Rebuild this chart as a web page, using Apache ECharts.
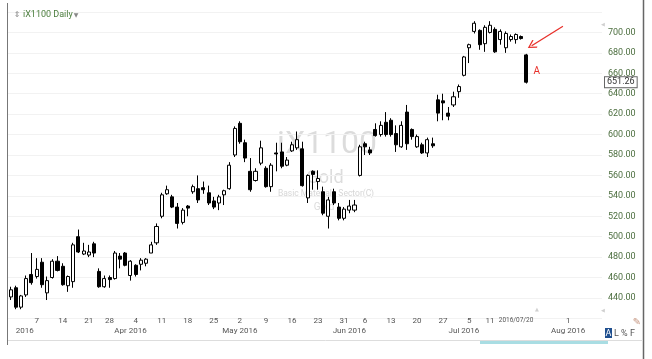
<!DOCTYPE html>
<html><head><meta charset="utf-8">
<script src="https://cdn.jsdelivr.net/npm/echarts@6/dist/echarts.min.js"></script>
<style>html,body{margin:0;padding:0;background:#fff}#c{width:652px;height:359px}</style>
</head><body><div id="c"></div>
<script>
// trading-day categories (incl. empty future days on the right)
const dates = [
'2016-02-29',
'2016-03-01','2016-03-02','2016-03-03','2016-03-04','2016-03-07','2016-03-08','2016-03-09','2016-03-10','2016-03-11',
'2016-03-14','2016-03-15','2016-03-16','2016-03-17','2016-03-18','2016-03-21','2016-03-22','2016-03-23','2016-03-24',
'2016-03-28','2016-03-29','2016-03-30','2016-03-31',
'2016-04-01','2016-04-04','2016-04-05','2016-04-06','2016-04-07','2016-04-08','2016-04-11','2016-04-12','2016-04-13',
'2016-04-14','2016-04-15','2016-04-18','2016-04-19','2016-04-20','2016-04-21','2016-04-22','2016-04-25','2016-04-26',
'2016-04-27','2016-04-28','2016-04-29',
'2016-05-02','2016-05-03','2016-05-04','2016-05-05','2016-05-06','2016-05-09','2016-05-10','2016-05-11','2016-05-12',
'2016-05-13','2016-05-16','2016-05-17','2016-05-18','2016-05-19','2016-05-20','2016-05-23','2016-05-24','2016-05-25',
'2016-05-26','2016-05-27','2016-05-31',
'2016-06-01','2016-06-02','2016-06-03','2016-06-06','2016-06-07','2016-06-08','2016-06-09','2016-06-10','2016-06-13',
'2016-06-14','2016-06-15','2016-06-16','2016-06-17','2016-06-20','2016-06-21','2016-06-22','2016-06-23','2016-06-24',
'2016-06-27','2016-06-28','2016-06-29','2016-06-30',
'2016-07-01','2016-07-05','2016-07-06','2016-07-07','2016-07-08','2016-07-11','2016-07-12','2016-07-13','2016-07-14',
'2016-07-15','2016-07-18','2016-07-19','2016-07-20','2016-07-21','2016-07-22','2016-07-25','2016-07-26','2016-07-27',
'2016-07-28','2016-07-29',
'2016-08-01','2016-08-02','2016-08-03','2016-08-04','2016-08-05','2016-08-08','2016-08-09'
];
const opens  = [441,450,431,443,463,461,475,445,460,476,471,452,456,500,483,482,493,466,451,460,459,481,484,462,472,473,474,484,494,520,
542,539,529,514,530,544,547,548,543,535,533,541,547,580,611,592,564,555,572,567,549,582,583,570,584,587,586,538,564,554,
544,520,544,529,518,526,526,560,591,585,605,600,612,614,601,588,622,605,588,590,582,591,634,633,621,629,642,658,685,701,
702,689,700,703,693,685,693,693,696,678];
const closes = [448,431,442,459,455,468,453,457,476,467,453,461,492,485,486,485,484,451,459,458,484,478,472,476,463,477,478,492,510,541,
546,529,513,526,528,549,536,546,533,529,539,545,570,606,593,577,546,564,587,549,570,581,569,575,590,595,550,560,561,557,
523,536,533,518,527,530,531,588,588,582,599,609,600,600,590,609,591,598,598,582,595,589,621,631,618,637,647,676,688,709,
688,705,707,681,701,699,696,698,694,651.26];
const lows   = [438,429,429,441,453,459,450,438,459,466,452,446,450,484,482,480,480,450,450,450,458,469,471,457,461,467,471,484,492,518,
541,528,508,512,520,542,533,542,531,527,526,531,546,578,591,573,544,554,570,548,544,564,567,569,583,585,549,533,546,546,
521,508,531,516,516,523,524,559,580,580,598,598,598,598,583,587,585,595,587,581,578,587,613,614,614,627,636,657,670,699,
683,681,699,680,688,680,691,689,693,650];
const highs  = [451,452,443,462,484,479,479,461,478,481,474,462,494,507,494,492,495,469,462,462,486,484,485,477,473,479,479,495,513,543,
550,541,533,528,531,551,560,554,550,539,541,546,573,608,613,595,577,567,594,569,572,592,592,578,593,603,593,561,565,565,
549,539,547,533,529,536,536,590,593,588,611,613,622,616,609,613,629,606,600,592,597,597,639,640,627,642,649,677,689,711,
703,707,711,705,703,701,698,699,697,679];
const lastClose = 651.26;

const dayTickDates = ['2016-03-07','2016-03-14','2016-03-21','2016-03-28','2016-04-04','2016-04-11','2016-04-18','2016-04-25',
  '2016-05-02','2016-05-09','2016-05-16','2016-05-23','2016-05-31','2016-06-06','2016-06-13','2016-06-20','2016-06-27',
  '2016-07-05','2016-07-11','2016-07-18','2016-08-01'];
const dayTickTexts = ['7','14','21','28','4','11','18','25','2','9','16','23','31','6','13','20','27','5','11','2016/07/20','1'];
const monthTickDates = ['2016-02-29','2016-03-01','2016-04-01','2016-05-02','2016-06-01','2016-07-01','2016-08-01'];
const monthTickTexts = ['2016','2016','Apr 2016','May 2016','Jun 2016','Jul 2016','Aug 2016'];

const yMin = 420, yMax = 720, yStep = 20;
const arrowFrom = ['2016-07-29', 706];
const arrowTo = ['2016-07-21', 687];
const noteA = ['2016-07-22', 662];

const FONT = 'Roboto, "Open Sans", sans-serif';
const candles = dates.map((d, i) => i < opens.length ? [opens[i], closes[i], lows[i], highs[i]] : '-');
const monthData = dates.map((d, i) => i <= 1 ? {value: d, textStyle: {align: 'left'}} : d);

const chart = echarts.init(document.getElementById('c'), null, {renderer: 'canvas'});
chart.setOption({
  animation: false,
  backgroundColor: '#fff',
  grid: {left: 8, right: 50, top: 12, height: 306.4, containLabel: false},
  xAxis: [{
    type: 'category', data: dates, boundaryGap: true,
    axisLine: {show: false}, axisTick: {show: false}, splitLine: {show: false},
    axisLabel: {
      margin: -1.5, fontSize: 8, color: '#555', fontFamily: FONT,
      interval: (idx, v) => dayTickDates.indexOf(v) >= 0,
      formatter: (v) => {
        const k = dayTickDates.indexOf(v);
        const t = k >= 0 ? dayTickTexts[k] : '';
        return t.indexOf('/') >= 0 ? '{s|' + t + '}' : t;
      },
      rich: {s: {fontSize: 6.5, color: '#555', fontFamily: FONT}}
    }
  }, {
    type: 'category', data: monthData, boundaryGap: true, position: 'bottom',
    axisLine: {show: false}, axisTick: {show: false}, splitLine: {show: false},
    axisLabel: {
      margin: 9, fontSize: 8, color: '#555', fontFamily: FONT, hideOverlap: false,
      interval: (idx, v) => monthTickDates.indexOf(v) >= 0,
      formatter: (v) => { const k = monthTickDates.indexOf(v); return k >= 0 ? monthTickTexts[k] : ''; }
    }
  }],
  yAxis: {
    type: 'value', position: 'right', min: yMin, max: yMax, interval: yStep, scale: true,
    axisLine: {show: false}, axisTick: {show: false},
    splitLine: {show: true, lineStyle: {color: '#f2f2f2', width: 1}},
    axisLabel: {showMinLabel: false, showMaxLabel: false, margin: 6, fontSize: 9, color: '#4c6e3f', fontFamily: FONT,
      formatter: v => v.toFixed(2)}
  },
  series: [{
    type: 'candlestick', xAxisIndex: 0, data: candles, barWidth: 3.6,
    itemStyle: {color: '#ffffff', color0: '#000000', borderColor: '#000000', borderColor0: '#000000', borderWidth: 1},
    markLine: {
      silent: true, animation: false, symbol: 'none',
      data: [
        [{coord: arrowFrom, symbol: 'none'},
         {coord: arrowTo, symbol: 'path://M0,0L5,8L4,9L0,2.4L-4,9L-5,8Z', symbolSize: [9, 9]}]
      ],
      lineStyle: {color: '#e8302a', width: 1.3, type: 'solid'},
      label: {show: false}
    },
    markPoint: {
      silent: true, animation: false,
      data: [{coord: noteA, symbol: 'circle', symbolSize: 0,
        label: {show: true, position: 'inside', formatter: 'A', color: '#e8302a', fontSize: 10, fontFamily: FONT}}]
    }
  }, {
    type: 'line', xAxisIndex: 0, data: [], silent: true,
    markLine: {
      silent: true, animation: false, symbol: 'none',
      lineStyle: {color: 'rgba(0,0,0,0)', width: 0},
      data: [{yAxis: lastClose}],
      label: {show: true, position: 'end', distance: 3, formatter: () => lastClose.toFixed(2),
        backgroundColor: '#fff', borderColor: '#666', borderWidth: 1, padding: [1, 2, 0, 2],
        color: '#333', fontSize: 9, fontFamily: FONT}
    }
  }],
  graphic: {elements: [
    {type: 'text', z: 0, x: 327, y: 145, style: {text: 'iX1100', fill: '#dcdcdc', font: '32px ' + FONT, align: 'center', verticalAlign: 'middle'}},
    {type: 'text', z: 0, x: 325, y: 178, style: {text: 'Gold', fill: '#dcdcdc', font: '18px ' + FONT, align: 'center', verticalAlign: 'middle'}},
    {type: 'text', z: 0, x: 326, y: 194, style: {text: 'Basic Materials Sector(C)', fill: '#d6d6d6', font: '8.5px ' + FONT, align: 'center', verticalAlign: 'middle'}},
    {type: 'text', z: 0, x: 324, y: 207, style: {text: 'Gold', fill: '#dcdcdc', font: '10px ' + FONT, align: 'center', verticalAlign: 'middle'}},
    {type: 'text', z: 5, x: 17, y: 15, style: {text: '⇕', fill: '#888', font: '8px "DejaVu Sans"', align: 'center', verticalAlign: 'middle'}},
    {type: 'text', z: 5, x: 23, y: 15, style: {text: 'iX1100 Daily', fill: '#4a7d3c', font: '9px ' + FONT, align: 'left', verticalAlign: 'middle'}},
    {type: 'text', z: 5, x: 76, y: 15, style: {text: '▼', fill: '#888', font: '6px "DejaVu Sans"', align: 'center', verticalAlign: 'middle'}},
    {type: 'text', z: 5, x: 603, y: 25, style: {text: '◀', fill: '#cfcfcf', font: '5px "DejaVu Sans"', align: 'center', verticalAlign: 'middle'}},
    {type: 'text', z: 5, x: 603, y: 311, style: {text: '◀', fill: '#cfcfcf', font: '5px "DejaVu Sans"', align: 'center', verticalAlign: 'middle'}},
    {type: 'text', z: 5, x: 537, y: 310, style: {text: '▲', fill: '#cfcfcf', font: '5px "DejaVu Sans"', align: 'center', verticalAlign: 'middle'}},
    {type: 'line', z: 5, shape: {x1: 7.5, y1: 3, x2: 7.5, y2: 345}, style: {stroke: '#777', lineWidth: 1}},
    {type: 'line', z: 5, shape: {x1: 643.5, y1: 0, x2: 643.5, y2: 359}, style: {stroke: '#666', lineWidth: 1.5}},
    {type: 'line', z: 5, shape: {x1: 8, y1: 340.5, x2: 643, y2: 340.5}, style: {stroke: '#dddddd', lineWidth: 1}},
    {type: 'rect', z: 5, shape: {x: 480, y: 341, width: 128, height: 3}, style: {fill: '#a9dde3'}},
    {type: 'rect', z: 5, shape: {x: 605, y: 328, width: 7, height: 10}, style: {fill: '#1f4f8f'}},
    {type: 'text', z: 6, x: 608.5, y: 333.5, style: {text: 'A', fill: '#ffffff', font: '9px ' + FONT, align: 'center', verticalAlign: 'middle'}},
    {type: 'text', z: 6, x: 614, y: 333.5, style: {text: 'L % F', fill: '#555', font: '9px ' + FONT, align: 'left', verticalAlign: 'middle'}},
    {type: 'text', z: 6, x: 637, y: 322, style: {text: '✎', fill: '#c89a86', font: '10px "DejaVu Sans"', align: 'center', verticalAlign: 'middle'}}
  ]}
});
</script>
</body></html>
